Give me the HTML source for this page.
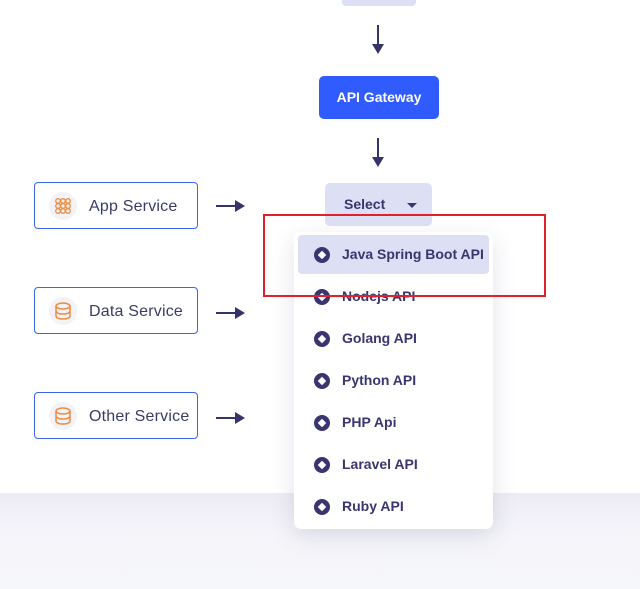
<!DOCTYPE html>
<html><head><meta charset="utf-8"><style>
*{margin:0;padding:0;box-sizing:border-box}
body{width:640px;height:589px;position:relative;overflow:hidden;background:#fff;font-family:"Liberation Sans",sans-serif}
.abs{position:absolute}
.band{left:0;top:493px;width:640px;height:96px;background:linear-gradient(#edecf6,#f6f6fa 50%,#f6f7fa)}
.svc{left:34px;width:164px;height:47px;border:1px solid #3a66f0;border-radius:4px;background:#fff}
.svc .ic{position:absolute;left:14px;top:9px;width:28px;height:28px;border-radius:50%;background:#f2f2f7}
.svc .t{position:absolute;left:54px;top:15px;font-size:16px;color:#3a3a6a;letter-spacing:.2px}
.dd{left:294px;top:232px;width:199px;height:297px;background:#fff;border-radius:7px;box-shadow:0 8px 24px rgba(40,40,90,.13)}
.it{position:absolute;left:4px;width:191px;height:39px;border-radius:4px}
.it .c{position:absolute;left:16px;top:12px;width:16px;height:16px;border-radius:50%;background:#3a3570}
.it .c:after{content:"";position:absolute;left:5px;top:5px;width:6px;height:6px;background:#fff;transform:rotate(45deg)}
.it .l{position:absolute;left:44px;top:11px;font-size:14px;font-weight:bold;color:#3a3570}
</style></head><body>
<div class="abs band"></div>
<div class="abs" style="left:342px;top:-6px;width:74px;height:12px;background:#dde0f5;border-radius:4px"></div>
<svg class="abs" style="left:0;top:0" width="640" height="589">
<g stroke="#34346a" stroke-width="2" fill="#34346a">
<line x1="378" y1="25" x2="378" y2="46"/><polygon points="372,44 384,44 378,54" stroke="none"/>
<line x1="378" y1="138" x2="378" y2="159"/><polygon points="372,157 384,157 378,167" stroke="none"/>
<line x1="216" y1="206" x2="237" y2="206"/><polygon points="235,200 235,212 245,206" stroke="none"/>
<line x1="216" y1="313" x2="237" y2="313"/><polygon points="235,307 235,319 245,313" stroke="none"/>
<line x1="216" y1="418" x2="237" y2="418"/><polygon points="235,412 235,424 245,418" stroke="none"/>
</g></svg>
<div class="abs" style="left:319px;top:76px;width:120px;height:43px;background:#2f5bff;border-radius:5px;color:#fff;font-weight:bold;font-size:14px;line-height:43px;text-align:center">API Gateway</div>
<div class="abs" style="left:325px;top:183px;width:107px;height:43px;background:#dde0f5;border-radius:5px">
<span class="abs" style="left:19px;top:13px;font-size:14px;font-weight:bold;color:#3a3570">Select</span>
<span class="abs" style="left:82px;top:20px;width:0;height:0;border-left:5px solid transparent;border-right:5px solid transparent;border-top:5px solid #3a3570"></span>
</div>
<div class="abs svc" style="top:182px"><div class="ic"><svg width="28" height="28"><g fill="none" stroke="#f08a3c" stroke-width="1.3"><circle cx="9" cy="9" r="2.3"/><circle cx="14" cy="9" r="2.3"/><circle cx="19" cy="9" r="2.3"/><circle cx="9" cy="14" r="2.3"/><circle cx="14" cy="14" r="2.3"/><circle cx="19" cy="14" r="2.3"/><circle cx="9" cy="19" r="2.3"/><circle cx="14" cy="19" r="2.3"/><circle cx="19" cy="19" r="2.3"/></g></svg></div><div class="t">App Service</div></div>
<div class="abs svc" style="top:287px"><div class="ic"><svg width="28" height="28"><g fill="none" stroke="#f08a3c" stroke-width="1.5"><ellipse cx="14" cy="9" rx="7" ry="3"/><path d="M7 9v10c0 1.7 3 3 7 3s7-1.3 7-3V9M7 14c0 1.7 3 3 7 3s7-1.3 7-3"/></g></svg></div><div class="t">Data Service</div></div>
<div class="abs svc" style="top:392px"><div class="ic"><svg width="28" height="28"><g fill="none" stroke="#f08a3c" stroke-width="1.5"><ellipse cx="14" cy="9" rx="7" ry="3"/><path d="M7 9v10c0 1.7 3 3 7 3s7-1.3 7-3V9M7 14c0 1.7 3 3 7 3s7-1.3 7-3"/></g></svg></div><div class="t">Other Service</div></div>
<div class="abs dd">
<div class="it" style="top:3px;background:#dde0f5"><span class="c"></span><span class="l">Java Spring Boot API</span></div>
<div class="it" style="top:45px"><span class="c"></span><span class="l">Nodejs API</span></div>
<div class="it" style="top:87px"><span class="c"></span><span class="l">Golang API</span></div>
<div class="it" style="top:129px"><span class="c"></span><span class="l">Python API</span></div>
<div class="it" style="top:171px"><span class="c"></span><span class="l">PHP Api</span></div>
<div class="it" style="top:213px"><span class="c"></span><span class="l">Laravel API</span></div>
<div class="it" style="top:255px"><span class="c"></span><span class="l">Ruby API</span></div>
</div>
<div class="abs" style="left:263px;top:214px;width:283px;height:83px;border:2px solid #e0202a"></div>
</body></html>
